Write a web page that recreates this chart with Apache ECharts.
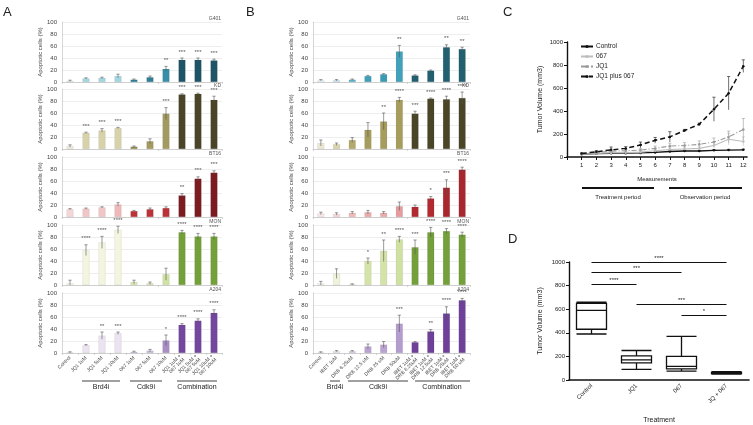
<!DOCTYPE html>
<html>
<head>
<meta charset="utf-8">
<script src="https://cdn.jsdelivr.net/npm/echarts@6/dist/echarts.min.js"></script>
<style>
  html, body { margin: 0; padding: 0; background: #fff; }
  #main { width: 753px; height: 425px; }
</style>
</head>
<body>
<div id="main"></div>
<script>
// ---- data ----
var cells = ['G401', 'KD', 'BT16', 'MON', 'A204'];

var aCats = ['Control', 'JQ1 1uM', 'JQ1 5uM', 'JQ1 10uM', '067 1uM', '067 5uM', '067 10uM',
  'JQ1 1uM +\n067 1uM', 'JQ1 5uM +\n067 5uM', 'JQ1 10uM +\n067 10uM'];
var bCats = ['Control', 'IBET 1uM', 'DRB 6.25uM', 'DRB 12.5 uM', 'DRB 25 uM', 'DRB 50uM',
  'IBET 1uM +\nDRB 6.25uM', 'IBET 1uM +\nDRB 12.5uM', 'IBET 1uM +\nDRB 25uM', 'IBET 1uM +\nDRB 50 uM'];

// panel A, one row per cell line
var aMean = [
  [2, 6, 7, 10, 4, 8, 22, 37, 37, 36],
  [5, 27, 31, 35, 4, 13, 59, 91, 92, 82],
  [13, 14, 16, 21, 10, 13, 15, 36, 64, 74],
  [3, 58, 71, 92, 5, 3, 18, 88, 81, 81],
  [1, 13, 29, 33, 2, 4, 21, 47, 54, 67]
];
var aErr = [
  [1, 1, 1, 3, 1, 2, 4, 3, 3, 2],
  [2, 1, 3, 1, 1, 4, 10, 1, 1, 6],
  [1, 1, 1, 3, 1, 2, 2, 3, 3, 3],
  [5, 9, 10, 6, 3, 2, 10, 3, 5, 5],
  [1, 1, 6, 2, 1, 2, 9, 2, 3, 5]
];
var aSig = [
  ['', '', '', '', '', '', '**', '***', '***', '***'],
  ['', '***', '***', '***', '', '', '***', '***', '***', '***'],
  ['', '', '', '', '', '', '', '**', '***', '***'],
  ['', '****', '****', '****', '', '', '', '****', '****', '****'],
  ['', '', '**', '***', '', '', '*', '****', '****', '****']
];
var aColors = [
  ['#e3f1f5', '#a3d5e2', '#a3d5e2', '#a3d5e2', '#2f7f95', '#2f7f95', '#3790a8', '#1d5566', '#1d5566', '#1d5566'],
  ['#eeebd9', '#d8d2aa', '#d8d2aa', '#d8d2aa', '#958c50', '#a39a5f', '#a39a5f', '#4a4527', '#4a4527', '#4a4527'],
  ['#f5d6d6', '#f2c6c6', '#f2c6c6', '#efb9b9', '#bb3338', '#bb3338', '#bb3338', '#7c1b22', '#7c1b22', '#7c1b22'],
  ['#f6f8ea', '#f3f5e1', '#f3f5e1', '#f3f5e1', '#d8e6b0', '#d8e6b0', '#d0e2a4', '#74a03a', '#74a03a', '#74a03a'],
  ['#f3eff6', '#ebe3ef', '#ebe3ef', '#ebe3ef', '#cbbadb', '#cbbadb', '#a98ec5', '#7446a0', '#7446a0', '#7446a0']
];

// panel B, one row per cell line
var bMean = [
  [3, 3, 4, 10, 13, 51, 11, 19, 58, 55],
  [10, 8, 15, 32, 46, 82, 59, 84, 83, 85],
  [6, 5, 7, 8, 7, 18, 17, 31, 49, 79],
  [3, 19, 1, 40, 57, 76, 63, 88, 90, 84],
  [1, 3, 3, 11, 14, 49, 18, 36, 66, 88]
];
var bErr = [
  [1, 1, 1, 1, 1, 10, 1, 1, 4, 3],
  [5, 2, 4, 12, 14, 4, 4, 1, 5, 10],
  [2, 2, 2, 3, 2, 7, 3, 3, 13, 4],
  [3, 8, 1, 5, 18, 5, 12, 8, 4, 4],
  [1, 1, 1, 4, 5, 14, 1, 3, 11, 3]
];
var bSig = [
  ['', '', '', '', '', '**', '', '', '**', '**'],
  ['', '', '', '', '**', '****', '***', '****', '****', '****'],
  ['', '', '', '', '', '', '', '*', '***', '****'],
  ['', '', '', '*', '**', '****', '***', '****', '****', '****'],
  ['', '', '', '', '', '***', '', '**', '****', '****']
];
var bColors = [
  ['#e4f2f6', '#c3e3ec', '#5fb3c8', '#3f9fb8', '#3a9ab4', '#41a1ba', '#22606f', '#22606f', '#22606f', '#22606f'],
  ['#ebe7d4', '#d9d3ae', '#b3a96c', '#a69c5c', '#a69c5c', '#a69c5c', '#4a4527', '#4a4527', '#4a4527', '#4a4527'],
  ['#f7e6e6', '#f4d8d8', '#eebaba', '#e9abab', '#e9abab', '#e69c9e', '#b2292f', '#b2292f', '#a8262d', '#a8262d'],
  ['#f5f7e8', '#eff3da', '#dfeabe', '#d4e4a8', '#d4e4a8', '#cfe1a0', '#73a03a', '#73a03a', '#73a03a', '#73a03a'],
  ['#f0eaf4', '#e8e0ee', '#d7c9e3', '#b9a3d1', '#b9a3d1', '#b39cce', '#6e409a', '#6e409a', '#6e409a', '#6e409a']
];

// panel C
var cX = [1, 2, 3, 4, 5, 6, 7, 8, 9, 10, 11, 12];
var cControl = [25, 30, 32, 33, 35, 40, 48, 52, 52, 58, 60, 62];
var cControlErr = [3, 3, 3, 4, 4, 5, 5, 5, 5, 6, 6, 6];
var c067 = [25, 30, 35, 38, 42, 55, 65, 70, 75, 100, 155, 135];
var c067Err = [5, 5, 8, 8, 10, 12, 15, 15, 20, 25, 50, 40];
var cJQ1 = [30, 40, 50, 55, 60, 75, 95, 100, 110, 130, 175, 240];
var cJQ1Err = [5, 8, 10, 10, 15, 20, 25, 25, 30, 35, 50, 95];
var cCombo = [30, 45, 62, 75, 105, 145, 175, 230, 285, 415, 555, 790];
var cComboErr = [5, 10, 25, 15, 25, 25, 45, 10, 10, 105, 145, 55];

// panel D: [min, Q1, median, Q3, max]
var dCats = ['Control', 'JQ1', '067', 'JQ + 067'];
var dBox = [
  [390, 430, 590, 650, 660],
  [90, 145, 170, 205, 250],
  [75, 95, 115, 200, 370],
  [50, 55, 60, 65, 70]
];
var dSig = [
  ['Control', 'JQ + 067', 1000, '****'],
  ['Control', '067', 915, '***'],
  ['Control', 'JQ1', 810, '****'],
  ['JQ1', 'JQ + 067', 640, '***'],
  ['067', 'JQ + 067', 550, '*']
];

// ---- layout ----
var FONT = 'Liberation Sans';
var rowTops = [22, 89, 157, 225, 293];
var rowH = 60;
var panels = [
  { left: 62, width: 160, cats: aCats, mean: aMean, err: aErr, sig: aSig, colors: aColors },
  { left: 313, width: 157, cats: bCats, mean: bMean, err: bErr, sig: bSig, colors: bColors }
];

var grids = [], xAxes = [], yAxes = [], series = [], graphics = [];
var plain = function (v) { return String(v); };

function errBars(sig, color) {
  return function (params, api) {
    var x = api.value(0), m = api.value(1), e = api.value(2);
    var top = api.coord([x, m + e]);
    var bot = api.coord([x, Math.max(0, m - e)]);
    var cw = 1.6;
    var st = { stroke: color, lineWidth: 0.6 };
    var kids = [
      { type: 'line', shape: { x1: top[0], y1: top[1], x2: bot[0], y2: bot[1] }, style: st },
      { type: 'line', shape: { x1: top[0] - cw, y1: top[1], x2: top[0] + cw, y2: top[1] }, style: st }
    ];
    var s = sig ? sig[params.dataIndex] : '';
    if (s) {
      kids.push({ type: 'text', style: { text: s, x: top[0], y: top[1] - 3, align: 'center',
        verticalAlign: 'bottom', fontSize: 6, fill: '#555', fontFamily: FONT } });
    }
    return { type: 'group', children: kids };
  };
}

panels.forEach(function (p, pi) {
  rowTops.forEach(function (top, ri) {
    var gi = grids.length;
    var bottomRow = ri === rowTops.length - 1;
    grids.push({ left: p.left, top: top, width: p.width, height: rowH });
    xAxes.push({
      type: 'category', gridIndex: gi, data: p.cats,
      axisLine: { lineStyle: { color: '#bbb', width: 0.6 } },
      axisTick: { show: true, length: 2, lineStyle: { color: '#bbb', width: 0.6 } },
      axisLabel: bottomRow ? { show: true, rotate: 45, fontSize: 5, color: '#444', margin: 4,
        fontFamily: FONT, lineHeight: 5, interval: 0 } : { show: false }
    });
    yAxes.push({
      type: 'value', gridIndex: gi, min: 0, max: 100, interval: 20,
      name: 'Apoptotic cells (%)', nameLocation: 'middle', nameGap: 17,
      nameTextStyle: { fontSize: 6, color: '#444', fontFamily: FONT },
      axisLine: { show: true, lineStyle: { color: '#bbb', width: 0.6 } },
      axisTick: { show: false },
      axisLabel: { fontSize: 6, color: '#444', margin: 5, fontFamily: FONT },
      splitLine: { lineStyle: { color: '#e2e2e2', width: 0.6 } }
    });
    var m = p.mean[ri], e = p.err[ri], c = p.colors[ri];
    series.push({
      type: 'bar', xAxisIndex: gi, yAxisIndex: gi, barWidth: 7,
      data: m.map(function (v, i) { return { value: v, itemStyle: { color: c[i], borderColor: 'rgba(0,0,0,0.15)', borderWidth: 0.4 } }; }),
      silent: true
    });
    series.push({
      type: 'custom', xAxisIndex: gi, yAxisIndex: gi,
      renderItem: errBars(p.sig[ri], '#555'),
      data: m.map(function (v, i) { return [i, v, e[i]]; }),
      encode: { x: 0, y: 1 }, z: 5, silent: true
    });
    // cell-line name, right aligned just above the plot
    graphics.push({ type: 'text', x: p.left + p.width - 1, y: top - 1,
      style: { text: cells[ri], fontSize: 5, fill: '#555', align: 'right', verticalAlign: 'bottom', fontFamily: FONT } });
  });
});

// panel C
var cg = grids.length;
grids.push({ left: 567, top: 42, width: 180, height: 115 });
xAxes.push({
  type: 'value', gridIndex: cg, min: 0, max: 12.25, interval: 1,
  name: 'Measurements', nameLocation: 'middle', nameGap: 19,
  nameTextStyle: { fontSize: 6, color: '#222', fontFamily: FONT },
  axisLine: { lineStyle: { color: '#111', width: 1.6 } },
  axisTick: { length: 3, lineStyle: { color: '#111', width: 1 } },
  axisLabel: { fontSize: 6, color: '#222', margin: 5, fontFamily: FONT,
    formatter: function (v) { return v === 0 ? '' : String(v); } },
  splitLine: { show: false }
});
yAxes.push({
  type: 'value', gridIndex: cg, min: 0, max: 1000, interval: 200,
  name: 'Tumor Volume (mm3)', nameLocation: 'middle', nameGap: 23,
  nameTextStyle: { fontSize: 7, color: '#222', fontFamily: FONT },
  axisLine: { show: true, lineStyle: { color: '#111', width: 1.4 } },
  axisTick: { show: true, length: 3, lineStyle: { color: '#111', width: 1 } },
  axisLabel: { fontSize: 6, color: '#222', margin: 4, fontFamily: FONT, formatter: plain },
  splitLine: { show: false }
});
var cSeries = [
  { name: 'Control', data: cControl, err: cControlErr, color: '#111', type: 'solid', w: 1.3 },
  { name: '067', data: c067, err: c067Err, color: '#bdbdbd', type: 'solid', w: 1.1 },
  { name: 'JQ1', data: cJQ1, err: cJQ1Err, color: '#9a9a9a', type: [5, 2, 1, 2], w: 1.1 },
  { name: 'JQ1 plus 067', data: cCombo, err: cComboErr, color: '#111', type: [5, 3], w: 1.5 }
];
cSeries.forEach(function (s) {
  series.push({
    name: s.name, type: 'line', xAxisIndex: cg, yAxisIndex: cg,
    data: cX.map(function (x, i) { return [x, s.data[i]]; }),
    symbol: 'circle', symbolSize: 2.5, showSymbol: true,
    itemStyle: { color: s.color },
    lineStyle: { color: s.color, width: s.w, type: s.type }, silent: true
  });
  series.push({
    type: 'custom', xAxisIndex: cg, yAxisIndex: cg,
    renderItem: errBars(null, s.color),
    data: cX.map(function (x, i) { return [x, s.data[i], s.err[i]]; }),
    encode: { x: 0, y: 1 }, silent: true
  });
});

// panel D
var dg = grids.length;
grids.push({ left: 569, top: 262, width: 180, height: 119 });
xAxes.push({
  type: 'category', gridIndex: dg, data: dCats,
  name: 'Treatment', nameLocation: 'middle', nameGap: 37,
  nameTextStyle: { fontSize: 7, color: '#222', fontFamily: FONT },
  axisLine: { lineStyle: { color: '#111', width: 1.6 } },
  axisTick: { alignWithLabel: true, length: 3, lineStyle: { color: '#111', width: 1 } },
  axisLabel: { rotate: 45, fontSize: 6, color: '#222', margin: 5, fontFamily: FONT, interval: 0 }
});
yAxes.push({
  type: 'value', gridIndex: dg, min: 0, max: 1000, interval: 200,
  name: 'Tumor Volume (mm3)', nameLocation: 'middle', nameGap: 25,
  nameTextStyle: { fontSize: 7, color: '#222', fontFamily: FONT },
  axisLine: { show: true, lineStyle: { color: '#111', width: 1.4 } },
  axisTick: { show: true, length: 3, lineStyle: { color: '#111', width: 1 } },
  axisLabel: { fontSize: 6, color: '#222', margin: 4, fontFamily: FONT, formatter: plain },
  splitLine: { show: false }
});
series.push({
  type: 'boxplot', xAxisIndex: dg, yAxisIndex: dg, data: dBox, boxWidth: [30, 30],
  itemStyle: { color: '#fff', borderColor: '#111', borderWidth: 1.3 }, silent: true,
  markLine: {
    symbol: 'none', silent: true,
    lineStyle: { color: '#111', width: 1, type: 'solid' },
    label: { show: true, position: 'middle', fontSize: 6, color: '#222', distance: 1, fontFamily: FONT },
    data: dSig.map(function (s) {
      return [{ coord: [s[0], s[2]], label: { formatter: s[3] } }, { coord: [s[1], s[2]] }];
    })
  }
});

// panel letters and group annotations
function label(x, y, t, size) {
  graphics.push({ type: 'text', left: x, top: y, style: { text: t, fontSize: size, fill: '#222', fontFamily: FONT } });
}
function hline(x1, x2, y, w) {
  graphics.push({ type: 'line', shape: { x1: x1, y1: y, x2: x2, y2: y }, style: { stroke: '#111', lineWidth: w } });
}
function ctext(cx, y, t, size) {
  graphics.push({ type: 'text', x: cx, y: y, style: { text: t, fontSize: size, fill: '#222', align: 'center', fontFamily: FONT } });
}
label(3, 6, 'A', 13);
label(246, 6, 'B', 13);
label(503, 6, 'C', 13);
label(508, 233, 'D', 13);

hline(82, 120, 381, 0.8); ctext(101, 384, 'Brd4i', 7);
hline(130, 162, 381, 0.8); ctext(146, 384, 'Cdk9i', 7);
hline(177, 217, 381, 0.8); ctext(197, 384, 'Combination', 7);

hline(330, 340, 381, 0.8); ctext(335, 384, 'Brd4i', 7);
hline(348, 408, 381, 0.8); ctext(378, 384, 'Cdk9i', 7);
hline(415, 470, 381, 0.8); ctext(442, 384, 'Combination', 7);

hline(582, 654, 188, 2); ctext(618, 194, 'Treatment period', 6);
hline(669, 742, 188, 2); ctext(705, 194, 'Observation period', 6);

var chart = echarts.init(document.getElementById('main'), null, { renderer: 'canvas' });
chart.setOption({
  animation: false,
  backgroundColor: '#fff',
  textStyle: { fontFamily: FONT },
  grid: grids,
  xAxis: xAxes,
  yAxis: yAxes,
  legend: {
    left: 575, top: 38, orient: 'vertical', itemGap: 3, itemWidth: 12, itemHeight: 4,
    textStyle: { fontSize: 6.5, color: '#222', fontFamily: FONT, padding: [0, 0, 0, -2] },
    data: ['Control', '067', 'JQ1', 'JQ1 plus 067'], selectedMode: false
  },
  graphic: graphics,
  series: series
});
</script>
</body>
</html>
